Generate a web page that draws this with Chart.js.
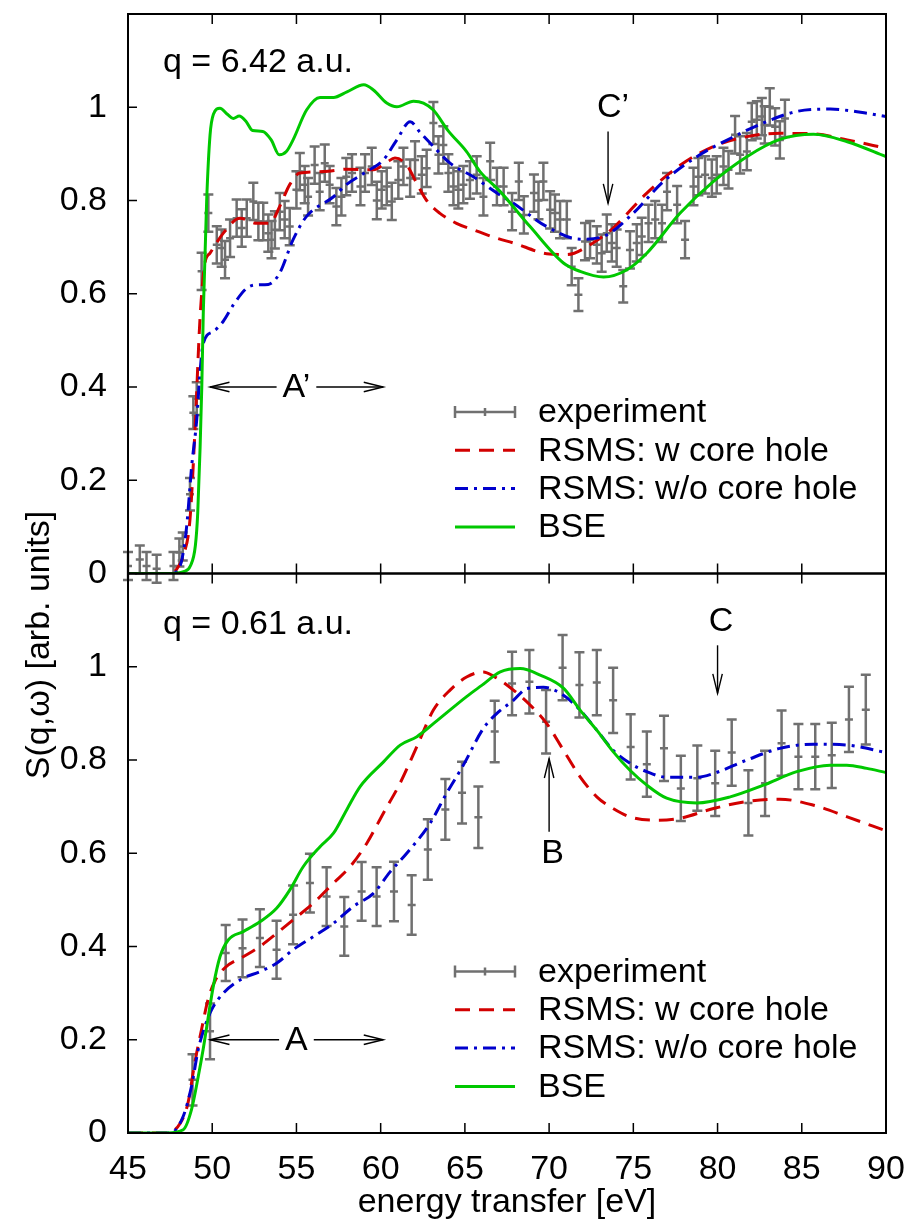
<!DOCTYPE html>
<html>
<head>
<meta charset="utf-8">
<script src="https://cdn.jsdelivr.net/npm/chart.js@4.4.0/dist/chart.umd.min.js"></script>
<style>
  body { margin: 0; background: #fff; }
  #wrap { width: 912px; height: 1225px; }
</style>
</head>
<body>
<div id="wrap"><canvas id="chart"></canvas></div>
<script>
// ---------- top panel: q = 6.42 a.u. ----------
const topExpE = [45.0, 45.7, 46.1, 46.7, 47.7, 48.05, 48.25, 48.68, 48.88, 49.08, 49.37, 49.77, 50.27, 50.56, 50.76,
  51.06, 51.45, 51.75, 52.05, 52.44, 52.74, 53.03, 53.33, 53.52, 53.72, 54.01, 54.3, 54.6, 55.0, 55.2, 55.49, 55.69,
  56.08, 56.38, 56.68, 56.97, 57.37, 57.67, 57.96, 58.3, 58.8, 59.07, 59.47, 59.77, 60.06, 60.36, 60.66, 61.05, 61.35,
  61.75, 62.04, 62.44, 62.73, 63.13, 63.43, 63.72, 64.02, 64.32, 64.61, 64.91, 65.3, 65.7, 66.1, 66.5, 66.9, 67.3,
  67.8, 68.2, 68.5, 69.1, 69.37, 69.66, 70.06, 70.35, 70.65, 71.05, 71.34, 71.74, 72.13, 72.43, 72.83, 73.12, 73.42,
  73.72, 74.01, 74.4, 74.8, 75.2, 75.5, 75.9, 76.3, 76.7, 77.0, 77.6, 78.07, 78.57, 78.86, 79.26, 79.66, 79.95, 80.35,
  80.65, 81.04, 81.34, 81.74, 82.03, 82.33, 82.63, 82.8, 83.1, 83.42, 83.7, 84.0];
const topExpS = [0.016, 0.03, 0.016, 0.01, 0.016, 0.045, 0.058, 0.17, 0.345, 0.375, 0.648, 0.773, 0.705, 0.698, 0.673,
  0.719, 0.762, 0.741, 0.762, 0.798, 0.755, 0.755, 0.73, 0.716, 0.737, 0.776, 0.759, 0.744, 0.823, 0.862, 0.834, 0.808,
  0.876, 0.819, 0.88, 0.834, 0.787, 0.808, 0.851, 0.859, 0.83, 0.859, 0.873, 0.80, 0.823, 0.83, 0.798, 0.844, 0.873,
  0.848, 0.887, 0.855, 0.869, 0.966, 0.898, 0.919, 0.859, 0.83, 0.823, 0.834, 0.844, 0.855, 0.808, 0.884, 0.83, 0.83,
  0.776, 0.841, 0.769, 0.816, 0.80, 0.841, 0.78, 0.773, 0.759, 0.759, 0.658, 0.598, 0.712, 0.716, 0.705, 0.687, 0.73,
  0.709, 0.698, 0.616, 0.694, 0.709, 0.723, 0.751, 0.759, 0.751, 0.819, 0.791, 0.716, 0.83, 0.851, 0.855, 0.848, 0.855,
  0.873, 0.866, 0.941, 0.898, 0.905, 0.969, 0.973, 0.98, 0.962, 1.001, 0.958, 0.93, 0.976];
const topExpErr = [0.03, 0.03, 0.03, 0.03, 0.03, 0.03, 0.03, 0.035, 0.035, 0.035, 0.04, 0.04, 0.04, 0.04, 0.04,
  0.04, 0.04, 0.04, 0.04, 0.04, 0.04, 0.04, 0.04, 0.04, 0.04, 0.04, 0.04, 0.04, 0.04, 0.04, 0.04, 0.04,
  0.04, 0.04, 0.04, 0.04, 0.04, 0.04, 0.04, 0.04, 0.04, 0.04, 0.04, 0.04, 0.04, 0.04, 0.04, 0.04, 0.04,
  0.04, 0.04, 0.04, 0.04, 0.045, 0.04, 0.04, 0.04, 0.04, 0.04, 0.04, 0.04, 0.04, 0.04, 0.04, 0.04, 0.04,
  0.04, 0.04, 0.04, 0.04, 0.04, 0.04, 0.04, 0.04, 0.04, 0.04, 0.04, 0.035, 0.04, 0.04, 0.04, 0.04, 0.04,
  0.04, 0.04, 0.035, 0.04, 0.04, 0.04, 0.04, 0.04, 0.04, 0.04, 0.04, 0.04, 0.04, 0.04, 0.04, 0.04, 0.04,
  0.04, 0.04, 0.04, 0.04, 0.04, 0.04, 0.04, 0.04, 0.04, 0.04, 0.04, 0.04, 0.04];

const topBseE = [45, 47.5, 48.3, 48.7, 49.0, 49.14, 49.28, 49.38, 49.47, 49.67, 49.87, 50.07, 50.46, 50.9, 51.25, 51.6,
  52.0, 52.4, 53.0, 53.5, 53.98, 54.4, 54.8, 55.6, 56.4, 57.2, 58.0, 59.0, 59.57, 60.36, 60.96, 61.95, 62.54, 63.13,
  64.0, 65.1, 65.9, 67.1, 68.87, 70.85, 71.84, 73.23, 74.6, 75.8, 77.78, 79.76, 81.74, 83.7, 85.7, 87.7, 90];
const topBseS = [0, 0, 0.004, 0.016, 0.06, 0.13, 0.27, 0.4, 0.56, 0.8, 0.94, 0.985, 0.998, 0.985, 0.976, 0.981,
  0.97, 0.95, 0.948, 0.93, 0.898, 0.905, 0.93, 0.994, 1.021, 1.021, 1.033, 1.048, 1.037, 1.009, 1.001, 1.013, 1.009, 0.994,
  0.95, 0.905, 0.862, 0.819, 0.744, 0.666, 0.648, 0.636, 0.651, 0.687, 0.773, 0.841, 0.894, 0.931, 0.942, 0.926, 0.894];

const topRsmsWE = [45, 47.6, 47.9, 48.3, 48.68, 48.98, 49.28, 49.57, 49.87, 50.66, 51.65, 52.64, 53.43, 54.0, 54.6,
  55.2, 56.6, 57.96, 59.57, 60.36, 60.85, 61.55, 62.14, 62.73, 63.5, 64.5, 65.5, 66.9, 67.88, 69.86, 71.05, 72.6,
  73.8, 75.8, 77.8, 79.76, 81.74, 83.7, 85.7, 87.7, 90];
const topRsmsWS = [0, 0, 0.01, 0.04, 0.116, 0.31, 0.55, 0.666, 0.687, 0.73, 0.762, 0.751, 0.751, 0.787, 0.834,
  0.859, 0.862, 0.867, 0.866, 0.882, 0.891, 0.876, 0.837, 0.80, 0.773, 0.751, 0.737, 0.719, 0.709, 0.686, 0.684, 0.709,
  0.741, 0.816, 0.876, 0.916, 0.937, 0.944, 0.943, 0.930, 0.912];

const topRsmsWoE = [45, 47.6, 48.0, 48.2, 48.48, 48.78, 49.08, 49.27, 49.47, 50.07, 50.66, 51.25, 52.05, 52.6, 53.33,
  54.0, 54.8, 55.6, 57.2, 57.96, 59.17, 60.16, 60.96, 61.75, 62.34, 63.13, 64.12, 65.5, 66.9, 67.88, 69.86, 71.84,
  73.23, 74.8, 76.8, 78.77, 80.75, 82.7, 84.7, 86.7, 88.7, 90];
const topRsmsWoS = [0, 0, 0.01, 0.03, 0.10, 0.23, 0.33, 0.43, 0.494, 0.519, 0.541, 0.576, 0.612, 0.619, 0.62,
  0.644, 0.716, 0.766, 0.808, 0.834, 0.862, 0.887, 0.93, 0.969, 0.946, 0.916, 0.88, 0.851, 0.816, 0.794, 0.744, 0.717,
  0.723, 0.766, 0.841, 0.894, 0.933, 0.966, 0.991, 0.996, 0.988, 0.98];

// ---------- bottom panel: q = 0.61 a.u. ----------
const botExpE = [48.83, 49.87, 50.8, 51.8, 52.83, 53.82, 54.8, 55.8, 56.79, 57.84, 58.87, 59.76, 60.79, 61.84, 62.8,
  63.84, 64.83, 65.8, 66.77, 67.8, 68.83, 69.82, 70.8, 71.8, 72.83, 73.8, 74.84, 75.8, 76.82, 77.82, 78.8, 79.86,
  80.84, 81.83, 82.82, 83.8, 84.8, 85.8, 86.78, 87.8, 88.8];
const botExpS = [0.114, 0.218, 0.386, 0.396, 0.418, 0.393, 0.468, 0.536, 0.507, 0.443, 0.518, 0.507, 0.518, 0.489, 0.608,
  0.694, 0.73, 0.677, 0.861, 0.964, 0.968, 0.882, 0.998, 0.961, 0.966, 0.928, 0.828, 0.791, 0.825, 0.739, 0.761, 0.75,
  0.816, 0.708, 0.75, 0.836, 0.807, 0.807, 0.81, 0.887, 0.908];
const botExpErr = [0.055, 0.06, 0.06, 0.062, 0.062, 0.062, 0.063, 0.063, 0.063, 0.063, 0.063, 0.063, 0.064, 0.064, 0.065,
  0.065, 0.066, 0.066, 0.066, 0.068, 0.068, 0.068, 0.07, 0.07, 0.07, 0.07, 0.07, 0.07, 0.07, 0.07, 0.07, 0.07,
  0.071, 0.07, 0.07, 0.07, 0.07, 0.07, 0.07, 0.07, 0.075];

const botBseE = [45, 47.3, 48.28, 48.77, 49.17, 49.46, 49.77, 50.06, 50.46, 50.95, 51.84, 52.83, 53.82, 54.6, 55.4,
  56.4, 57.2, 57.98, 58.78, 60.17, 61.16, 62.15, 63.13, 65.1, 66.0, 67.1, 68.28, 69.47, 70.85, 71.84, 72.83, 73.8,
  74.8, 75.8, 76.98, 78.77, 80.75, 82.72, 84.7, 86.68, 87.67, 88.86, 90];
const botBseS = [0, 0, 0.007, 0.05, 0.121, 0.179, 0.25, 0.314, 0.378, 0.414, 0.432, 0.453, 0.482, 0.521, 0.571,
  0.614, 0.643, 0.693, 0.743, 0.796, 0.832, 0.85, 0.878, 0.936, 0.96, 0.989, 0.996, 0.982, 0.954, 0.907, 0.864, 0.818,
  0.778, 0.746, 0.718, 0.708, 0.721, 0.746, 0.775, 0.789, 0.789, 0.782, 0.773];

const botRsmsWE = [45, 47.3, 48.1, 48.56, 48.96, 49.36, 49.75, 50.15, 50.74, 51.84, 52.83, 53.82, 54.8, 56.0, 57.2,
  58.18, 59.17, 60.16, 61.15, 62.14, 63.13, 64.12, 65.1, 66.1, 66.7, 67.88, 68.87, 69.86, 70.85, 71.84, 72.83, 73.8,
  74.8, 76.38, 77.77, 79.76, 81.74, 83.7, 85.7, 87.7, 90];
const botRsmsWS = [0, 0, 0.021, 0.064, 0.15, 0.221, 0.286, 0.325, 0.354, 0.378, 0.40, 0.428, 0.457, 0.493, 0.536,
  0.571, 0.621, 0.686, 0.75, 0.828, 0.907, 0.95, 0.978, 0.989, 0.98, 0.95, 0.918, 0.878, 0.821, 0.764, 0.721, 0.696,
  0.678, 0.671, 0.675, 0.696, 0.711, 0.716, 0.703, 0.678, 0.648];

const botRsmsWoE = [45, 47.5, 48.28, 48.77, 49.17, 49.57, 49.96, 50.66, 51.84, 52.83, 53.82, 54.8, 56.0, 57.2, 58.38,
  59.57, 60.56, 61.55, 62.93, 63.92, 64.91, 66.1, 66.9, 67.88, 68.67, 69.66, 70.85, 71.84, 72.83, 73.8, 74.8, 75.8,
  76.98, 78.77, 79.76, 81.74, 83.7, 85.7, 87.7, 90];
const botRsmsWoS = [0, 0, 0.036, 0.10, 0.179, 0.229, 0.264, 0.30, 0.332, 0.346, 0.364, 0.393, 0.421, 0.45, 0.486,
  0.514, 0.56, 0.6, 0.664, 0.729, 0.789, 0.868, 0.90, 0.928, 0.953, 0.956, 0.939, 0.907, 0.864, 0.821, 0.793, 0.775,
  0.763, 0.763, 0.771, 0.80, 0.825, 0.834, 0.832, 0.816];

const yTicks = [0, 0.2, 0.4, 0.6, 0.8, 1];
const seriesLabels = ['experiment', 'RSMS: w core hole', 'RSMS: w/o core hole', 'BSE'];

const FONT = "'Liberation Sans', Arial, Helvetica, sans-serif";
const FS = 34;
const GRAY = 'rgb(112,112,112)';
const RED = 'rgb(210,0,0)';
const BLUE = 'rgb(0,0,205)';
const GREEN = 'rgb(0,200,0)';

function pts(xs, ys) {
  return xs.map((x, i) => ({ x: x, y: ys[i] }));
}

function expSet(axis, xs, ys, errs) {
  return {
    label: seriesLabels[0], yAxisID: axis, data: pts(xs, ys), errors: errs,
    showLine: false, pointStyle: 'line', pointRadius: 4, pointBorderWidth: 2.5,
    borderColor: GRAY, backgroundColor: GRAY, order: 3
  };
}

function curveSet(idx, axis, xs, ys, color, dash, order) {
  return {
    label: seriesLabels[idx], yAxisID: axis, data: pts(xs, ys),
    borderColor: color, backgroundColor: color, borderWidth: 3, borderDash: dash,
    pointRadius: 0, cubicInterpolationMode: 'monotone', fill: false, order: order
  };
}

const DASH_RED = [15, 9];
const DASH_BLUE = [13, 6, 3, 6];

// error bars under the curves
const errorBars = {
  id: 'errorBars',
  beforeDatasetsDraw(chart) {
    const ctx = chart.ctx;
    const xs = chart.scales.x;
    ctx.save();
    ctx.strokeStyle = GRAY;
    ctx.lineWidth = 2.5;
    chart.data.datasets.forEach(ds => {
      if (!ds.errors) return;
      const ys = chart.scales[ds.yAxisID];
      ds.data.forEach((p, i) => {
        const px = xs.getPixelForValue(p.x);
        const lo = ys.getPixelForValue(p.y - ds.errors[i]);
        const hi = ys.getPixelForValue(p.y + ds.errors[i]);
        ctx.beginPath();
        ctx.moveTo(px, lo); ctx.lineTo(px, hi);
        ctx.moveTo(px - 5, lo); ctx.lineTo(px + 5, lo);
        ctx.moveTo(px - 5, hi); ctx.lineTo(px + 5, hi);
        ctx.stroke();
      });
    });
    ctx.restore();
  }
};

function arrowHead(ctx, tx, ty, dx, dy) {
  // open gnuplot-style head pointing along (dx, dy)
  const len = 20, spread = 0.24;
  const a = Math.atan2(dy, dx);
  ctx.beginPath();
  ctx.moveTo(tx - len * Math.cos(a - spread), ty - len * Math.sin(a - spread));
  ctx.lineTo(tx, ty);
  ctx.lineTo(tx - len * Math.cos(a + spread), ty - len * Math.sin(a + spread));
  ctx.stroke();
}

function arrow(ctx, x1, y1, x2, y2) {
  ctx.beginPath();
  ctx.moveTo(x1, y1); ctx.lineTo(x2, y2);
  ctx.stroke();
  arrowHead(ctx, x2, y2, x2 - x1, y2 - y1);
}

const decorations = {
  id: 'decorations',
  afterDatasetsDraw(chart) {
    const ctx = chart.ctx;
    const x = chart.scales.x, yt = chart.scales.yTop, yb = chart.scales.yBot;
    ctx.save();
    ctx.fillStyle = '#000';
    ctx.strokeStyle = '#000';
    ctx.lineWidth = 1.4;
    ctx.font = FS + 'px ' + FONT;
    ctx.textBaseline = 'middle';

    // panel captions
    ctx.textAlign = 'left';
    ctx.fillText('q = 6.42 a.u.', x.left + 35, yt.getPixelForValue(1.095));
    ctx.fillText('q = 0.61 a.u.', x.left + 35, yb.getPixelForValue(1.09));

    // double arrows A' and A
    [[yt, 'A\u2019', 0.4], [yb, 'A', 0.2]].forEach(([s, t, v]) => {
      const py = s.getPixelForValue(v);
      const cx = x.getPixelForValue(55);
      const w = ctx.measureText(t).width;
      ctx.textAlign = 'center';
      ctx.fillText(t, cx, py + 1);
      arrow(ctx, cx - w / 2 - 6, py, x.getPixelForValue(49.87), py);
      arrow(ctx, cx + w / 2 + 6, py, x.getPixelForValue(60.15), py);
    });

    // C' (top), C and B (bottom)
    ctx.textAlign = 'center';
    ctx.fillText('C\u2019', x.getPixelForValue(73.8), yt.getPixelForValue(1.0));
    arrow(ctx, x.getPixelForValue(73.5), yt.getPixelForValue(0.948), x.getPixelForValue(73.5), yt.getPixelForValue(0.794));
    ctx.fillText('C', x.getPixelForValue(80.2), yb.getPixelForValue(1.096));
    arrow(ctx, x.getPixelForValue(80.0), yb.getPixelForValue(1.046), x.getPixelForValue(80.0), yb.getPixelForValue(0.943));
    ctx.fillText('B', x.getPixelForValue(70.2), yb.getPixelForValue(0.60));
    arrow(ctx, x.getPixelForValue(70.0), yb.getPixelForValue(0.646), x.getPixelForValue(70.0), yb.getPixelForValue(0.803));

    // legends inside each panel
    [yt, yb].forEach(s => {
      const sets = chart.data.datasets.filter(d => d.yAxisID === s.id);
      sets.forEach((d, i) => {
        const ly = s.top + 398 + i * 38.3;
        const x0 = 455, x1 = 515;
        ctx.save();
        ctx.strokeStyle = d.borderColor;
        ctx.lineWidth = d.errors ? 2.5 : 3;
        if (d.borderDash) ctx.setLineDash(d.borderDash);
        ctx.beginPath();
        ctx.moveTo(x0, ly); ctx.lineTo(x1, ly);
        if (d.errors) {
          ctx.moveTo(x0, ly - 6); ctx.lineTo(x0, ly + 6);
          ctx.moveTo(x1, ly - 6); ctx.lineTo(x1, ly + 6);
          ctx.moveTo(485, ly - 4); ctx.lineTo(485, ly + 4);
        }
        ctx.stroke();
        ctx.restore();
        ctx.textAlign = 'left';
        ctx.fillText(d.label, 538, ly + 1);
      });
    });

    // y axis title
    ctx.save();
    ctx.translate(40, 645);
    ctx.rotate(-Math.PI / 2);
    ctx.textAlign = 'center';
    ctx.fillText('S(q,\u03c9) [arb. units]', 0, 0);
    ctx.restore();
    ctx.restore();
  },
  afterDraw(chart) {
    const ctx = chart.ctx;
    const x = chart.scales.x;
    ctx.save();
    ctx.strokeStyle = '#000';
    [chart.scales.yTop, chart.scales.yBot].forEach(s => {
      ctx.lineWidth = 2;
      ctx.strokeRect(x.left, s.top, x.right - x.left, s.bottom - s.top);
      ctx.lineWidth = 1.5;
      ctx.beginPath();
      x.ticks.forEach(t => {
        const px = x.getPixelForValue(t.value);
        ctx.moveTo(px, s.top); ctx.lineTo(px, s.top + 10);
        ctx.moveTo(px, s.bottom); ctx.lineTo(px, s.bottom - 10);
      });
      yTicks.forEach(v => {
        const py = s.getPixelForValue(v);
        ctx.moveTo(x.left, py); ctx.lineTo(x.left + 9, py);
      });
      ctx.stroke();
    });
    ctx.restore();
  }
};

function yScale() {
  return {
    type: 'linear', position: 'left', stack: 'panels', stackWeight: 1,
    min: 0, max: 1.2,
    grid: { display: false, drawTicks: false },
    border: { display: false },
    ticks: {
      stepSize: 0.2, padding: 21, color: '#000', font: { family: FONT, size: FS },
      callback: function (v) { return v > 1.01 ? '' : String(+v.toFixed(1)); }
    },
    afterFit: function (s) { s.width = 128; s.paddingTop = 0; s.paddingBottom = 0; }
  };
}

const allSets = [
  expSet('yTop', topExpE, topExpS, topExpErr),
  curveSet(1, 'yTop', topRsmsWE, topRsmsWS, RED, DASH_RED, 2),
  curveSet(2, 'yTop', topRsmsWoE, topRsmsWoS, BLUE, DASH_BLUE, 1),
  curveSet(3, 'yTop', topBseE, topBseS, GREEN, [], 0),
  expSet('yBot', botExpE, botExpS, botExpErr),
  curveSet(1, 'yBot', botRsmsWE, botRsmsWS, RED, DASH_RED, 2),
  curveSet(2, 'yBot', botRsmsWoE, botRsmsWoS, BLUE, DASH_BLUE, 1),
  curveSet(3, 'yBot', botBseE, botBseS, GREEN, [], 0)
];

new Chart(document.getElementById('chart'), {
  type: 'line',
  data: { datasets: allSets },
  options: {
    responsive: true,
    maintainAspectRatio: false,
    animation: false,
    layout: { padding: { left: 0, right: 26, top: 14, bottom: 0 } },
    plugins: { legend: { display: false }, tooltip: { enabled: false } },
    scales: {
      x: {
        type: 'linear', min: 45, max: 90,
        grid: { display: false, drawTicks: false },
        border: { display: false },
        ticks: { stepSize: 5, padding: 16, color: '#000', font: { family: FONT, size: FS } },
        title: { display: true, text: 'energy transfer [eV]', color: '#000', font: { family: FONT, size: FS }, padding: { top: 0, bottom: 2 } },
        afterFit: function (s) { s.height = 92; s.paddingLeft = 0; s.paddingRight = 0; }
      },
      yBot: yScale(),
      yTop: yScale()
    }
  },
  plugins: [errorBars, decorations]
});
</script>
</body>
</html>
